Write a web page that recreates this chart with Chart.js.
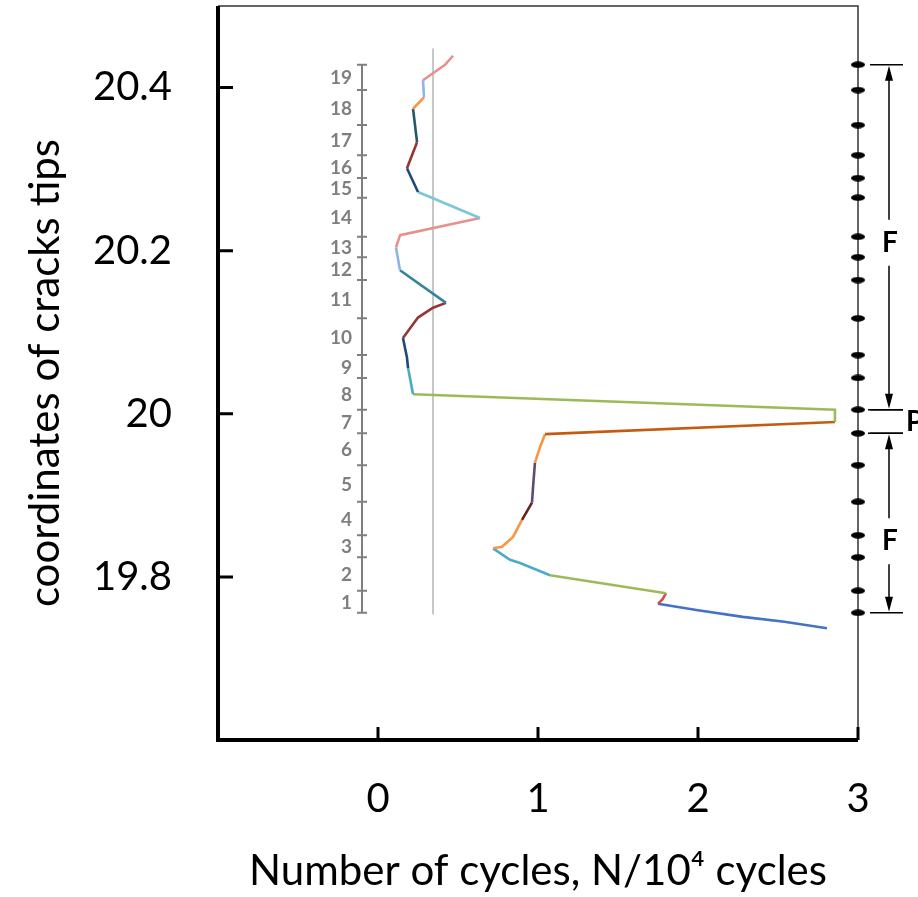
<!DOCTYPE html>
<html>
<head>
<meta charset="utf-8">
<script src="https://cdn.jsdelivr.net/npm/chart.js@4.4.1/dist/chart.umd.min.js"></script>
<style>
  html, body { margin: 0; padding: 0; background: #fff; }
  #wrap { width: 918px; height: 897px; }
</style>
</head>
<body>
<div id="wrap"><canvas id="crackChart" width="918" height="897"></canvas></div>
<script>
// axis ticks
const xTicks = [0, 1, 2, 3];
const yTicks = [19.8, 20, 20.2, 20.4];

// crack tip path, read from bottom to top (N in 10^4 cycles, coordinate)
const cyclesN = [2.806, 2.54, 2.28, 2.0, 1.75, 1.78, 1.80, 1.075, 0.8875, 0.825, 0.719, 0.775, 0.844, 0.9,
  0.9625, 0.969, 0.981, 1.0125, 1.044, 2.856, 2.856, 0.219, 0.188, 0.181, 0.156, 0.25, 0.344, 0.425,
  0.1375, 0.1125, 0.138, 0.6375, 0.25, 0.181, 0.244, 0.219, 0.2875, 0.281, 0.419, 0.469];
const tipY = [19.737, 19.745, 19.751, 19.759, 19.767, 19.773, 19.780, 19.802, 19.817, 19.821, 19.835, 19.837, 19.849, 19.870,
  19.891, 19.910, 19.940, 19.959, 19.975, 19.990, 20.005, 20.024, 20.056, 20.069, 20.093, 20.118, 20.130, 20.136,
  20.176, 20.204, 20.219, 20.240, 20.272, 20.301, 20.333, 20.374, 20.388, 20.409, 20.428, 20.439];
// colour stage of each segment (point i -> i+1)
const segStage = ['blue', 'blue', 'blue', 'blue', 'red', 'red', 'green', 'cyan', 'cyan', 'cyan',
  'orange', 'orange', 'orange', 'darkBrown', 'purple', 'purple', 'orange', 'orange', 'burnt', 'green',
  'green', 'cyan', 'navy', 'navy', 'darkRed', 'darkRed', 'darkRed', 'teal', 'lightBlue', 'pink',
  'pink', 'lightCyan', 'navy', 'darkRed', 'darkTeal', 'orange', 'lightBlue', 'pink', 'pink'];

// crack zones 1..19 (boundaries on the coordinate axis)
const zoneBounds = [19.756, 19.783, 19.824, 19.851, 19.892, 19.937, 19.976, 20.005, 20.044, 20.072,
  20.117, 20.164, 20.192, 20.217, 20.265, 20.289, 20.317, 20.354, 20.397, 20.428];
const zoneLabels = ['1', '2', '3', '4', '5', '6', '7', '8', '9', '10', '11', '12', '13', '14', '15', '16', '17', '18', '19'];
const zoneScaleN = -0.1;

// grey reference line
const refLineN = 0.344;
const refLineY = [19.754, 20.448];

// F / P brackets on the right
const bracketF = [[20.005, 20.428, 20.211], [19.756, 19.976, 19.845]]; // from, to, label position
const bracketP = [19.976, 20.005, 19.99];

const palette = {
  blue: '#4472C4', red: '#D0504D', green: '#9BBB59', cyan: '#4BACC6', orange: '#F79646',
  darkBrown: '#632523', purple: '#5F497A', burnt: '#C55A11', navy: '#1F497D', darkRed: '#943634',
  teal: '#31859C', lightBlue: '#8EB4E3', pink: '#E6908F', lightCyan: '#7DC6DA', darkTeal: '#215968'
};

const FONT = 'Lato, "Open Sans", sans-serif';

// black dash used for the crack marks on the right border
const dash = document.createElement('canvas');
dash.width = 14; dash.height = 7;
(function() {
  const c = dash.getContext('2d');
  c.fillStyle = '#000';
  c.beginPath();
  c.ellipse(7, 3.5, 7, 3.2, 0, 0, Math.PI * 2);
  c.fill();
})();

function arrowLine(ctx, x, y0, y1) {
  // line from y0 to y1 with arrowhead at y1
  const dir = y1 > y0 ? 1 : -1;
  ctx.beginPath();
  ctx.moveTo(x, y0);
  ctx.lineTo(x, y1 - dir * 12);
  ctx.stroke();
  ctx.beginPath();
  ctx.moveTo(x, y1);
  ctx.lineTo(x - 4, y1 - dir * 15);
  ctx.lineTo(x + 4, y1 - dir * 15);
  ctx.closePath();
  ctx.fill();
}

// scales should not push the plot area in for their labels
function noPadding(s) {
  s.paddingTop = 0; s.paddingBottom = 0; s.paddingLeft = 0; s.paddingRight = 0;
}

const decor = {
  id: 'decor',
  beforeDatasetsDraw(chart) {
    const ctx = chart.ctx;
    const xs = chart.scales.x, ys = chart.scales.y;
    const a = chart.chartArea;
    ctx.save();
    // frame: thin top and right
    ctx.strokeStyle = '#333';
    ctx.lineWidth = 1.5;
    ctx.beginPath();
    ctx.moveTo(a.left, a.top);
    ctx.lineTo(a.right, a.top);
    ctx.lineTo(a.right, a.bottom);
    ctx.stroke();
    // thick left and bottom axes
    ctx.strokeStyle = '#000';
    ctx.lineWidth = 4;
    ctx.beginPath();
    ctx.moveTo(a.left, a.top);
    ctx.lineTo(a.left, a.bottom + 2);
    ctx.moveTo(a.left - 2, a.bottom);
    ctx.lineTo(a.right, a.bottom);
    ctx.stroke();
    // inward ticks
    ctx.lineWidth = 3;
    ctx.beginPath();
    xTicks.forEach(v => {
      const px = xs.getPixelForValue(v);
      ctx.moveTo(px, a.bottom);
      ctx.lineTo(px, a.bottom - 13);
    });
    yTicks.forEach(v => {
      const py = ys.getPixelForValue(v);
      ctx.moveTo(a.left, py);
      ctx.lineTo(a.left + 15, py);
    });
    ctx.stroke();

    // grey reference line
    ctx.strokeStyle = '#b4b4b4';
    ctx.lineWidth = 1.5;
    ctx.beginPath();
    ctx.moveTo(xs.getPixelForValue(refLineN), ys.getPixelForValue(refLineY[0]));
    ctx.lineTo(xs.getPixelForValue(refLineN), ys.getPixelForValue(refLineY[1]));
    ctx.stroke();

    // zone scale 1..19
    const sx = xs.getPixelForValue(zoneScaleN);
    ctx.strokeStyle = '#7f7f7f';
    ctx.lineWidth = 2;
    ctx.beginPath();
    ctx.moveTo(sx, ys.getPixelForValue(zoneBounds[0]));
    ctx.lineTo(sx, ys.getPixelForValue(zoneBounds[zoneBounds.length - 1]));
    zoneBounds.forEach(b => {
      const py = ys.getPixelForValue(b);
      ctx.moveTo(sx - 5, py);
      ctx.lineTo(sx + 5, py);
    });
    ctx.stroke();
    ctx.fillStyle = '#7f7f7f';
    ctx.font = 'bold 19px ' + FONT;
    ctx.textAlign = 'right';
    ctx.textBaseline = 'middle';
    zoneLabels.forEach((t, i) => {
      const py = ys.getPixelForValue((zoneBounds[i] + zoneBounds[i + 1]) / 2);
      ctx.fillText(t, sx - 10, py + 1);
    });
    ctx.restore();
  },
  afterDraw(chart) {
    const ctx = chart.ctx;
    const ys = chart.scales.y;
    const a = chart.chartArea;
    ctx.save();
    ctx.strokeStyle = '#000';
    ctx.fillStyle = '#000';
    ctx.lineWidth = 1.5;
    const ax = a.right + 31;
    ctx.font = 'bold 28px ' + FONT;
    ctx.textAlign = 'center';
    ctx.textBaseline = 'middle';
    bracketF.forEach(([from, to, mid]) => {
      const pFrom = ys.getPixelForValue(from), pTo = ys.getPixelForValue(to), pMid = ys.getPixelForValue(mid);
      ctx.beginPath();
      ctx.moveTo(a.right + 12, pTo); ctx.lineTo(a.right + 45, pTo);
      ctx.moveTo(a.right + 12, pFrom); ctx.lineTo(a.right + 45, pFrom);
      ctx.stroke();
      arrowLine(ctx, ax, pMid - 22, pTo + 1);
      arrowLine(ctx, ax, pMid + 24, pFrom - 1);
      ctx.fillText('F', ax + 1, pMid + 1);
    });
    const pTop = ys.getPixelForValue(bracketP[1]), pBot = ys.getPixelForValue(bracketP[0]);
    ctx.beginPath();
    ctx.moveTo(a.right + 10, pTop); ctx.lineTo(a.right + 45, pTop);
    ctx.moveTo(a.right + 10, pBot); ctx.lineTo(a.right + 45, pBot);
    ctx.stroke();
    ctx.textAlign = 'left';
    ctx.fillText('P', a.right + 48, ys.getPixelForValue(bracketP[2]));
    ctx.restore();
  }
};

const crackPoints = cyclesN.map((n, i) => ({ x: n, y: tipY[i] }));
const markPoints = zoneBounds.map(b => ({ x: 3, y: b }));

new Chart(document.getElementById('crackChart'), {
  type: 'scatter',
  data: {
    datasets: [{
      data: crackPoints,
      showLine: true,
      borderWidth: 2.6,
      pointRadius: 0,
      borderColor: palette.blue,
      segment: {
        borderColor: c => palette[segStage[c.p0DataIndex]]
      }
    }, {
      data: markPoints,
      pointStyle: dash,
      clip: false
    }]
  },
  options: {
    responsive: false,
    animation: false,
    layout: { autoPadding: false, padding: { top: 6, right: 60, left: 0, bottom: 0 } },
    plugins: { legend: { display: false }, tooltip: { enabled: false } },
    scales: {
      x: {
        type: 'linear',
        min: -1,
        max: 3,
        afterBuildTicks: s => { s.ticks = xTicks.map(v => ({ value: v })); },
        afterFit: s => { s.height = 157; noPadding(s); },
        grid: { display: false, drawTicks: false },
        border: { display: false },
        ticks: { color: '#000', padding: 35, font: { family: FONT, size: 40 } },
        title: {
          display: true,
          text: 'Number of cycles, N/10\u2074 cycles',
          color: '#000',
          font: { family: FONT, size: 42 },
          padding: { top: 0, bottom: 0 }
        }
      },
      y: {
        type: 'linear',
        min: 19.6,
        max: 20.5,
        afterBuildTicks: s => { s.ticks = yTicks.map(v => ({ value: v })); },
        afterFit: s => { s.width = 218; noPadding(s); },
        grid: { display: false, drawTicks: false },
        border: { display: false },
        ticks: {
          color: '#000',
          padding: 46,
          font: { family: FONT, size: 40 },
          callback: v => String(Math.round(v * 10) / 10)
        },
        title: {
          display: true,
          text: 'coordinates of cracks tips',
          color: '#000',
          font: { family: FONT, size: 42 },
          padding: { top: 20, bottom: 0 }
        }
      }
    }
  },
  plugins: [decor]
});
</script>
</body>
</html>
